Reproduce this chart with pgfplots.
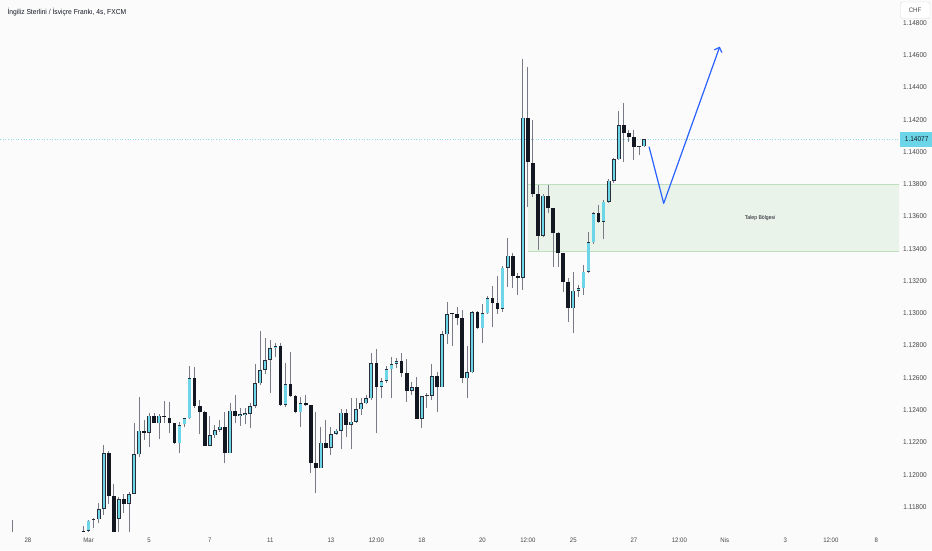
\documentclass[border=0pt]{standalone}
\usepackage{fontspec}
\setmainfont{Liberation Sans}
\newfontfamily\tvfont[FakeStretch=0.93]{Liberation Sans}
\usepackage{pgfplots}
\usepackage{pgfplotstable}
\pgfplotsset{compat=1.18}
\usetikzlibrary{arrows.meta}
\definecolor{bgc}{RGB}{251,251,251}
\definecolor{upc}{RGB}{108,214,232}
\definecolor{outc}{RGB}{42,46,57}
\definecolor{downc}{RGB}{19,23,34}
\definecolor{wickc}{RGB}{120,123,134}
\definecolor{zonec}{RGB}{234,243,234}
\definecolor{zoneb}{RGB}{190,222,190}
\definecolor{arrowc}{RGB}{41,98,255}
\definecolor{lblc}{RGB}{70,70,75}
\definecolor{pricec}{RGB}{150,215,232}
\definecolor{titlec}{RGB}{19,23,34}

\pgfplotstableread{
i O H L C
12 1.11651 1.11720 1.11600 1.11715
13 1.11722 1.11730 1.11668 1.11728
14 1.11724 1.11823 1.11699 1.11788
15 1.11788 1.12184 1.11750 1.12133
18 1.11726 1.11864 1.11630 1.11848
20 1.11819 1.11891 1.11647 1.11879
21 1.11881 1.12322 1.11881 1.12126
22 1.12126 1.12480 1.12112 1.12273
24 1.12260 1.12380 1.12170 1.12366
26 1.12319 1.12374 1.12219 1.12366
30 1.12195 1.12328 1.12133 1.12308
31 1.12312 1.12352 1.12297 1.12349
32 1.12349 1.12675 1.12343 1.12597
36 1.12178 1.12364 1.12175 1.12244
37 1.12244 1.12308 1.12226 1.12277
38 1.12277 1.12339 1.12267 1.12297
40 1.12133 1.12442 1.12133 1.12397
42 1.12364 1.12411 1.12302 1.12376
43 1.12370 1.12411 1.12312 1.12380
44 1.12376 1.12446 1.12288 1.12426
45 1.12426 1.12684 1.12413 1.12566
46 1.12566 1.12890 1.12556 1.12649
47 1.12649 1.12845 1.12624 1.12711
48 1.12711 1.12835 1.12508 1.12783
49 1.12783 1.12818 1.12731 1.12797
51 1.12432 1.12690 1.12418 1.12560
54 1.12387 1.12483 1.12297 1.12442
58 1.12040 1.12294 1.12040 1.12198
60 1.12167 1.12294 1.12122 1.12252
61 1.12252 1.12283 1.12246 1.12273
62 1.12273 1.12405 1.12157 1.12384
64 1.12308 1.12473 1.12157 1.12328
65 1.12328 1.12473 1.12320 1.12405
66 1.12405 1.12473 1.12370 1.12442
67 1.12442 1.12494 1.12435 1.12473
68 1.12473 1.12752 1.12465 1.12690
70 1.12545 1.12598 1.12473 1.12581
71 1.12581 1.12674 1.12570 1.12653
72 1.12653 1.12727 1.12473 1.12686
73 1.12686 1.12721 1.12659 1.12703
76 1.12520 1.12576 1.12494 1.12542
78 1.12345 1.12490 1.12287 1.12488
79 1.12486 1.12504 1.12411 1.12490
80 1.12488 1.12684 1.12463 1.12612
82 1.12542 1.12892 1.12542 1.12870
83 1.12870 1.13072 1.12810 1.12996
87 1.12597 1.12797 1.12473 1.12634
88 1.12634 1.13016 1.12630 1.13006
90 1.12907 1.13058 1.12814 1.13000
91 1.13000 1.13107 1.12998 1.13093
94 1.13027 1.13293 1.13010 1.13282
95 1.13282 1.13465 1.13165 1.13357
98 1.13221 1.14574 1.13144 1.14212
102 1.13481 1.13739 1.13470 1.13729
108 1.13031 1.13258 1.12876 1.13140
109 1.13140 1.13175 1.13103 1.13155
110 1.13155 1.13299 1.13113 1.13258
111 1.13258 1.13506 1.13248 1.13440
112 1.13440 1.13629 1.13430 1.13619
114 1.13567 1.13702 1.13458 1.13691
115 1.13691 1.13830 1.13681 1.13821
116 1.13821 1.13960 1.13809 1.13954
117 1.13954 1.14255 1.13950 1.14166
121 1.14032 1.14036 1.13981 1.14035
122 1.14035 1.14080 1.14030 1.14077
}\upcandles

\pgfplotstableread{
i O H L C
-3 1.11630 1.11719 1.11580 1.11610
11 1.11650 1.11682 1.11600 1.11630
16 1.12133 1.12149 1.11817 1.11870
17 1.11870 1.11941 1.11600 1.11630
19 1.11848 1.11879 1.11765 1.11819
23 1.12273 1.12339 1.12215 1.12260
25 1.12366 1.12380 1.12319 1.12319
27 1.12366 1.12457 1.12319 1.12356
28 1.12353 1.12452 1.12257 1.12319
29 1.12319 1.12322 1.12192 1.12195
33 1.12597 1.12665 1.12415 1.12426
34 1.12426 1.12463 1.12252 1.12390
35 1.12390 1.12392 1.12175 1.12178
39 1.12297 1.12390 1.12071 1.12133
41 1.12397 1.12494 1.12319 1.12364
50 1.12797 1.12818 1.12426 1.12432
52 1.12560 1.12758 1.12483 1.12488
53 1.12488 1.12492 1.12380 1.12387
55 1.12442 1.12494 1.12425 1.12430
56 1.12430 1.12432 1.12012 1.12071
57 1.12071 1.12390 1.11885 1.12040
59 1.12198 1.12339 1.12167 1.12167
63 1.12384 1.12405 1.12236 1.12308
69 1.12690 1.12777 1.12257 1.12545
74 1.12703 1.12752 1.12607 1.12628
75 1.12628 1.12715 1.12449 1.12520
77 1.12542 1.12607 1.12345 1.12345
81 1.12612 1.12638 1.12390 1.12542
84 1.12996 1.12998 1.12797 1.12993
85 1.12996 1.13041 1.12927 1.12973
86 1.12973 1.13020 1.12566 1.12597
89 1.13006 1.13016 1.12905 1.12907
92 1.13093 1.13169 1.12913 1.13066
93 1.13066 1.13231 1.12996 1.13027
96 1.13357 1.13372 1.13155 1.13231
97 1.13231 1.13248 1.13113 1.13221
99 1.14212 1.14524 1.13660 1.13939
100 1.13933 1.14197 1.13722 1.13739
101 1.13739 1.13795 1.13392 1.13481
103 1.13729 1.13795 1.13619 1.13650
104 1.13650 1.13652 1.13285 1.13499
105 1.13499 1.13501 1.13289 1.13372
106 1.13372 1.13374 1.13134 1.13192
107 1.13192 1.13217 1.12948 1.13031
113 1.13619 1.13671 1.13560 1.13567
118 1.14166 1.14301 1.13939 1.14119
119 1.14119 1.14136 1.14063 1.14090
120 1.14090 1.14136 1.13950 1.14032
}\downcandles

\begin{document}
\begin{tikzpicture}
\useasboundingbox (0,0) rectangle (932pt,550pt);
\fill[bgc] (0,0) rectangle (932pt,550pt);
\begin{axis}[
  at={(0pt,19pt)}, anchor=south west,
  scale only axis, width=899pt, height=531pt,
  xmin=-5.54, xmax=172.5, ymin=1.11651, ymax=1.14941,
  clip mode=individual,
  axis line style={draw=none},
  major tick length=0pt,
  scaled y ticks=false,
  /pgf/number format/assume math mode=true,
  ytick={1.118,1.120,1.122,1.124,1.126,1.128,1.130,1.132,1.134,1.136,1.138,1.140,1.142,1.144,1.146,1.148},
  yticklabel pos=right,
  yticklabel={\pgfmathprintnumber[fixed,fixed zerofill,precision=5]{\tick}},
  yticklabel style={font=\tvfont\fontsize{7}{8}\selectfont, text=lblc, anchor=center, xshift=16pt},
  xtick={0,12,24,36,48,60,69,78,90,99,108,120,129,138,150,159,168},
  xticklabels={28,Mar,5,7,11,13,12:00,18,20,12:00,25,27,12:00,Nis,3,12:00,8},
  xticklabel style={font=\tvfont\fontsize{6.5}{7}\selectfont, text=lblc, anchor=center, yshift=-9pt},
]
% demand zone
\addplot[fill=zonec, draw=none, forget plot] coordinates {(99.07,1.13386) (173,1.13386) (173,1.13800) (99.07,1.13800) (99.07,1.13386)};
\addplot[zoneb, line width=0.8pt, forget plot] coordinates {(99.07,1.13800) (173,1.13800)};
\addplot[zoneb, line width=0.8pt, forget plot] coordinates {(99.07,1.13386) (173,1.13386)};
% current price line
\addplot[pricec, dotted, line width=0.6pt, forget plot] coordinates {(-6,1.14077) (173,1.14077)};
% wicks
\addplot[draw=none, mark=none, forget plot, error bars/.cd, y dir=plus, y explicit, error mark=none,
  error bar style={draw=wickc, line width=0.9pt, solid}]
  table[x=i, y=L, y error plus expr={\thisrow{H}-\thisrow{L}}] {\upcandles};
\addplot[draw=none, mark=none, forget plot, error bars/.cd, y dir=plus, y explicit, error mark=none,
  error bar style={draw=wickc, line width=0.9pt, solid}]
  table[x=i, y=L, y error plus expr={\thisrow{H}-\thisrow{L}}] {\downcandles};
% down bodies
\addplot[draw=none, mark=none, forget plot, error bars/.cd, y dir=plus, y explicit, error mark=none,
  error bar style={draw=downc, line width=3.7pt, solid}]
  table[x=i, y=C, y error plus expr={max(\thisrow{O}-\thisrow{C},0.00006)}] {\downcandles};
% up bodies: outline then fill
\addplot[draw=none, mark=none, forget plot, error bars/.cd, y dir=plus, y explicit, error mark=none,
  error bar style={draw=outc, line width=3.7pt, solid}]
  table[x=i, y=O, y error plus expr={max(\thisrow{C}-\thisrow{O},0.00006)}] {\upcandles};
\addplot[draw=none, mark=none, forget plot, error bars/.cd, y dir=plus, y explicit, error mark=none,
  error bar style={draw=upc, line width=2.3pt, solid}]
  table[x=i, y expr={\thisrow{O}+0.000042}, y error plus expr={max(\thisrow{C}-\thisrow{O}-0.000084,0)}] {\upcandles};
% projected path
\addplot[arrowc, line width=1.2pt, line join=round, -{Straight Barb[length=4pt,width=8pt]}, forget plot]
  coordinates {(123.0,1.14032) (125.9,1.13681) (137.0,1.14652)};
% alert marker
\addplot[only marks, mark=triangle*, mark size=2.6pt, mark options={rotate=-90, fill=black, draw=black}, forget plot]
  coordinates {(172.75,1.13812)};
\node[font=\tvfont\fontsize{5.5}{6}\selectfont, text=titlec] at (axis cs:145,1.13589) {Talep Bölgesi};
\node[anchor=west, fill=upc, inner sep=0pt, minimum width=34pt, minimum height=15pt, text=titlec,
  font=\tvfont\fontsize{7}{8}\selectfont] at (axis cs:172.6,1.14077) {1.14077};
\end{axis}
\node[anchor=west, text=titlec, font=\tvfont\fontsize{7.2}{8}\selectfont] at (4pt,538pt) {İngiliz Sterlini / İsviçre Frankı, 4s, FXCM};
\draw[draw=black!15, fill=white, rounded corners=2pt] (900.5pt,531.5pt) rectangle (930pt,548pt);
\node[text=lblc, font=\tvfont\fontsize{6.5}{7}\selectfont] at (915pt,540pt) {CHF};
\end{tikzpicture}
\end{document}
